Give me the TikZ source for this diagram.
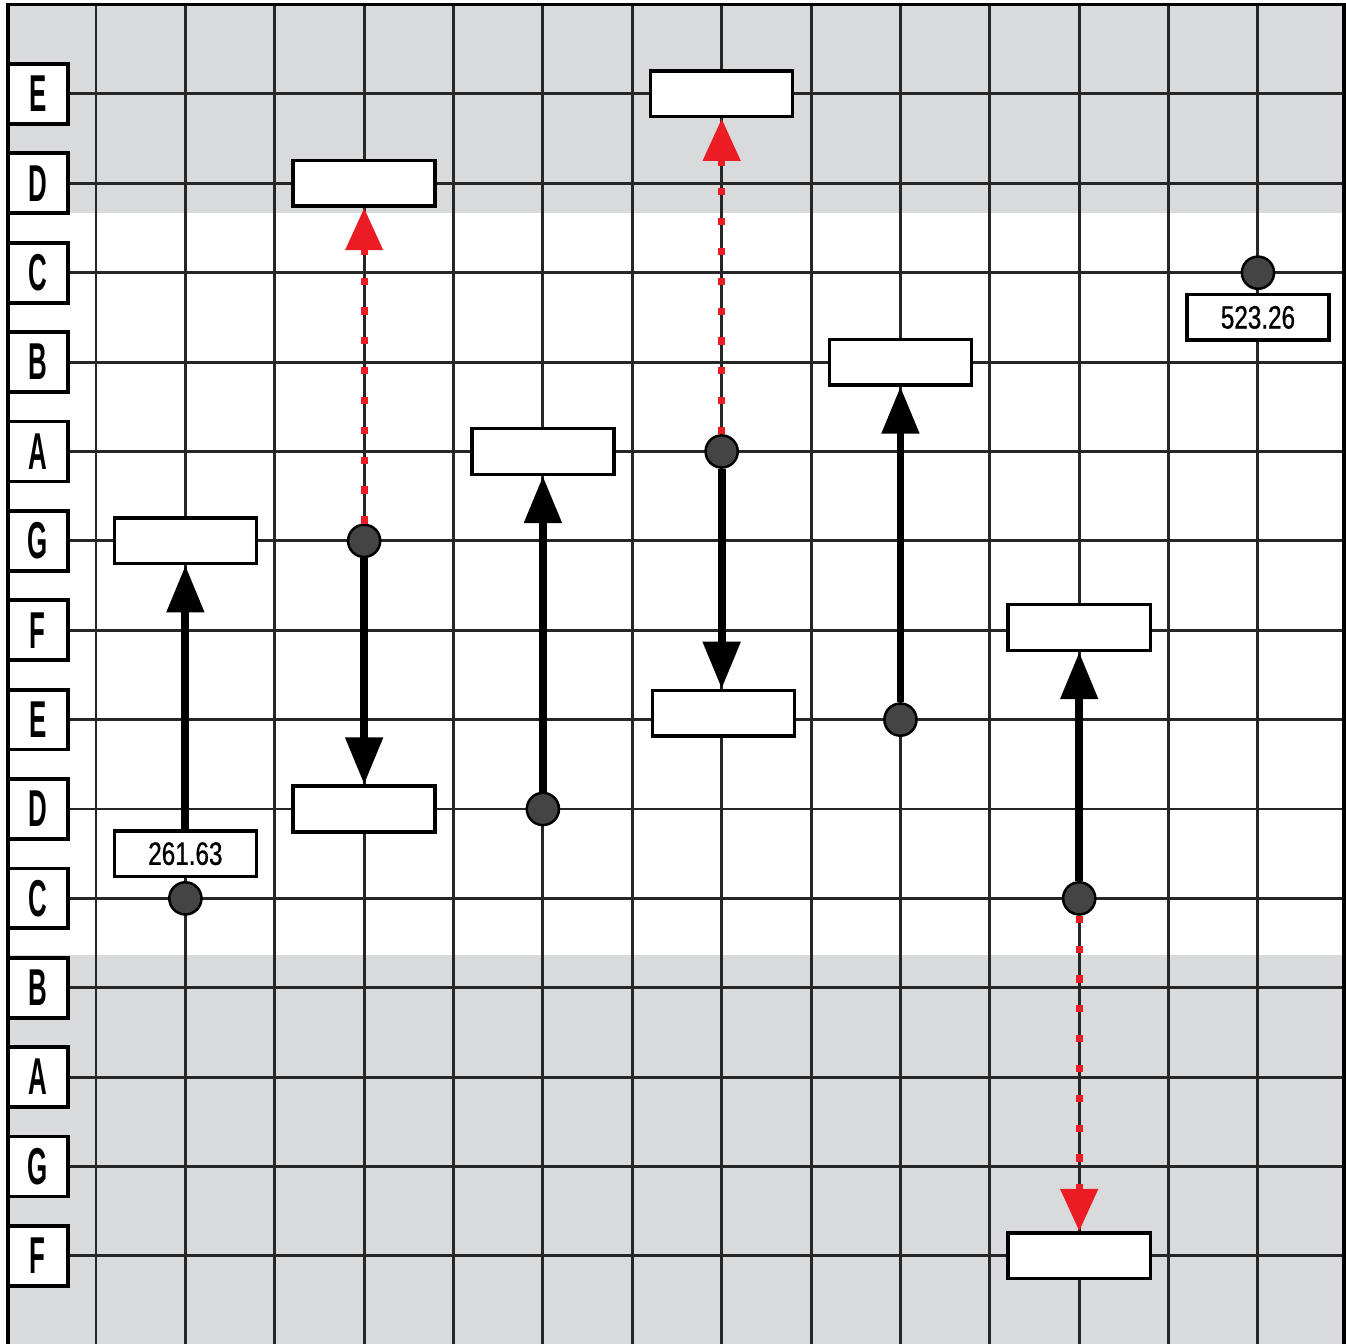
\documentclass[tikz,border=0pt]{standalone}
\usepackage{fontspec}
\setmainfont{Liberation Sans}
\newfontfamily\rowfont[FakeStretch=0.5]{Liberation Sans}
\newfontfamily\numfont[FakeStretch=0.75, FakeBold=0.8]{Liberation Sans}
\usetikzlibrary{arrows.meta}
\definecolor{paneGray}{HTML}{D9DADC}
\definecolor{dotGray}{HTML}{444444}
\definecolor{leapRed}{HTML}{EC1C24}
\begin{document}
\begin{tikzpicture}[
    gridline/.style={line width=0.95pt, black!85},
    rowlab/.style={draw, line width=1.2pt, fill=white, minimum width=0.67cm,
                   minimum height=0.67cm, inner sep=0pt,
                   font=\rowfont\bfseries\fontsize{16.5}{18}\selectfont},
    note/.style={draw, line width=1.1pt, fill=white, minimum width=1.59cm,
                 minimum height=0.51cm, inner sep=0pt},
    freq/.style={note, font=\numfont\fontsize{10.3}{12}\selectfont},
    dot/.style={circle, draw, line width=0.8pt, fill=dotGray,
                minimum size=0.36cm, inner sep=0pt},
    move/.style={line width=2.5pt, -{Triangle[length=15pt, width=11.5pt]}},
    leap/.style={leapRed, line width=2.3pt, dash pattern=on 2.3pt off 7.2pt,
                 -{Triangle[length=13.5pt, width=11.5pt]}},
]
\useasboundingbox (-0.074,0.015) rectangle (14.985,15.051);

% shaded bands
\fill[paneGray] (0.016,12.67) rectangle (14.96,15);
\fill[paneGray] (0.016,0.015) rectangle (14.96,4.37);

% staff grid and frame
\draw[gridline] (0.016,0.015) grid (14.96,15);
\draw[line width=1.1pt] (0.016,0.015) -- (0.016,15) -- (14.96,15) -- (14.96,0.015);

% note names
\foreach \name [count=\j] in {E,D,C,B,A,G,F,E,D,C,B,A,G,F}
    \node[rowlab] (row\j) at (0.35, 15-\j) {\name};

% start points
\node[dot] (d1) at (2, 5) {};
\node[dot] (d2) at (4, 9) {};
\node[dot] (d3) at (6, 6) {};
\node[dot] (d4) at (8, 10) {};
\node[dot] (d5) at (10, 7) {};
\node[dot] (d6) at (12, 5) {};
\node[dot] (d7) at (14, 12) {};

% frequencies
\node[freq] (f1) at (2, 5.5) {261.63};
\node[freq] (f7) at (14, 11.5) {523.26};

% targets
\node[note] (n1) at (2, 9) {};
\node[note] (n2) at (4, 6) {};
\node[note] (n2up) at (4, 13) {};
\node[note] (n3) at (6, 10) {};
\node[note] (n4) at (8.02, 7.07) {};
\node[note] (n4up) at (8, 14) {};
\node[note] (n5) at (10, 11) {};
\node[note] (n6) at (12, 8.03) {};
\node[note] (n6dn) at (12, 1) {};

% intervals
\draw[move] (f1) -- (n1);
\draw[move] (d2) -- (n2);
\draw[move] (d3) -- (n3);
\draw[move] (d4) -- (d4 |- n4.north);
\draw[move] (d5) -- (n5);
\draw[move] (d6) -- (n6);

% octave jumps
\draw[leap] (d2) -- (n2up);
\draw[leap] (d4) -- (n4up);
\draw[leap] (d6) -- (n6dn);
\end{tikzpicture}
\end{document}
